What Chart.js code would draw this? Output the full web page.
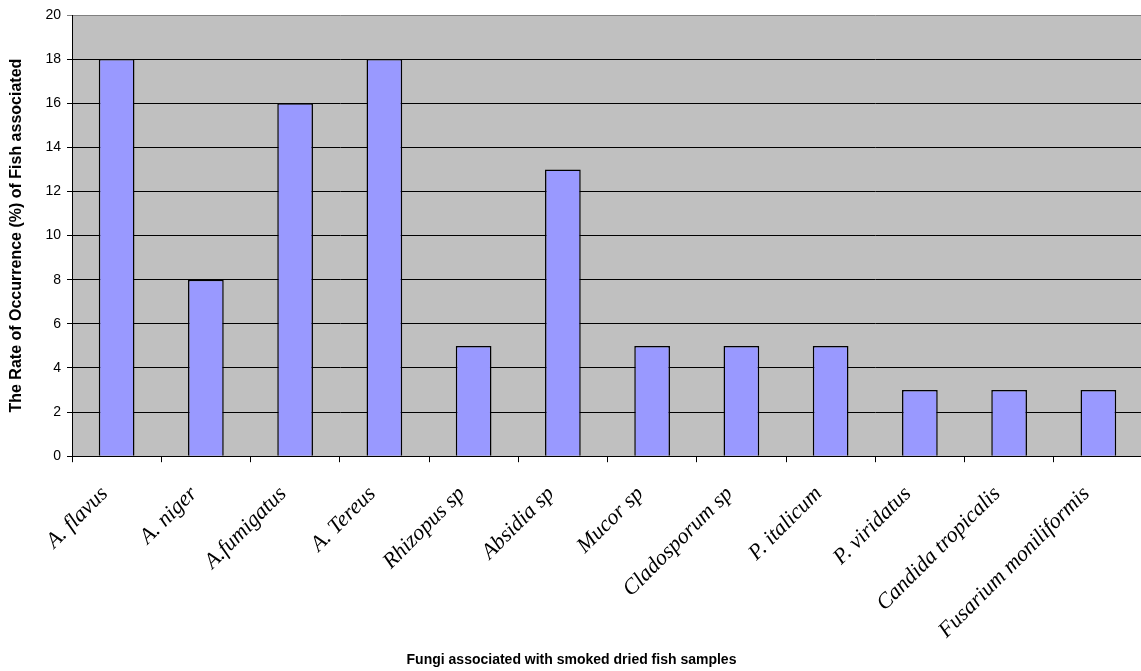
<!DOCTYPE html>
<html>
<head>
<meta charset="utf-8">
<script src="https://cdn.jsdelivr.net/npm/chart.js@4/dist/chart.umd.min.js"></script>
<style>
  html, body { margin: 0; padding: 0; background: #ffffff; overflow: hidden; }
  #wrap { position: relative; width: 1143px; height: 671px; }
</style>
</head>
<body>
<div id="wrap"><canvas id="c"></canvas></div>
<script>
// Fungal species isolated from smoked dried fish
const categories = [
  'A. flavus', 'A. niger', 'A.fumigatus', 'A. Tereus', 'Rhizopus sp', 'Absidia sp',
  'Mucor sp', 'Cladosporum sp', 'P. italicum', 'P. viridatus', 'Candida tropicalis',
  'Fusarium moniliformis'
];
// Rate of occurrence (%)
const occurrence = [18, 8, 16, 18, 5, 13, 5, 5, 5, 3, 3, 3];
const yTicks = [0, 2, 4, 6, 8, 10, 12, 14, 16, 18, 20];

const plotBackground = {
  id: 'plotBackground',
  beforeDraw(chart) {
    const { ctx, chartArea: a } = chart;
    ctx.save();
    ctx.fillStyle = '#c0c0c0';
    ctx.fillRect(a.left, a.top, a.right - a.left, a.bottom - a.top);
    ctx.restore();
  }
};

new Chart(document.getElementById('c'), {
  type: 'bar',
  data: {
    labels: categories,
    datasets: [{
      data: occurrence,
      backgroundColor: '#9999ff',
      borderColor: '#000000',
      borderWidth: 1.5,
      barPercentage: 0.8,
      categoryPercentage: 0.5
    }]
  },
  options: {
    responsive: true,
    maintainAspectRatio: false,
    animation: false,
    layout: { padding: { top: 15, right: 0, bottom: 0, left: 0 } },
    plugins: {
      legend: { display: false },
      tooltip: { enabled: false },
      title: {
        display: true,
        position: 'bottom',
        fullSize: true,
        text: 'Fungi associated with smoked dried fish samples',
        color: '#000000',
        padding: { top: 4, bottom: 2 },
        font: { family: '"Liberation Sans", Arial, sans-serif', weight: 'bold', size: 14 }
      }
    },
    scales: {
      x: {
        afterFit(scale) { scale.height = 192; },
        grid: {
          offset: true,
          drawOnChartArea: false,
          drawTicks: true,
          tickLength: 6,
          color: '#000000'
        },
        border: { color: '#000000', width: 1 },
        ticks: {
          maxRotation: 45,
          minRotation: 45,
          autoSkip: false,
          padding: 19,
          labelOffset: -12,
          color: '#000000',
          font: { family: '"Liberation Serif", "Times New Roman", serif', style: 'italic', size: 22 }
        }
      },
      y: {
        min: 0,
        max: 20,
        afterFit(scale) { scale.width = 72; },
        afterBuildTicks(scale) {
          scale.ticks = yTicks.map(v => ({ value: v }));
        },
        grid: {
          color: ctx => (ctx.tick && ctx.tick.value === 20) ? '#808080' : '#000000',
          lineWidth: 1,
          drawTicks: true,
          tickLength: 5
        },
        border: { color: '#000000', width: 1 },
        ticks: {
          padding: 6,
          color: '#000000',
          font: { family: '"Liberation Sans", Arial, sans-serif', size: 14 }
        },
        title: {
          display: true,
          text: 'The Rate of Occurrence (%) of Fish associated',
          color: '#000000',
          padding: { top: 7, bottom: 4 },
          font: { family: '"Liberation Sans", Arial, sans-serif', weight: 'bold', size: 16 }
        }
      }
    }
  },
  plugins: [plotBackground]
});
</script>
</body>
</html>
